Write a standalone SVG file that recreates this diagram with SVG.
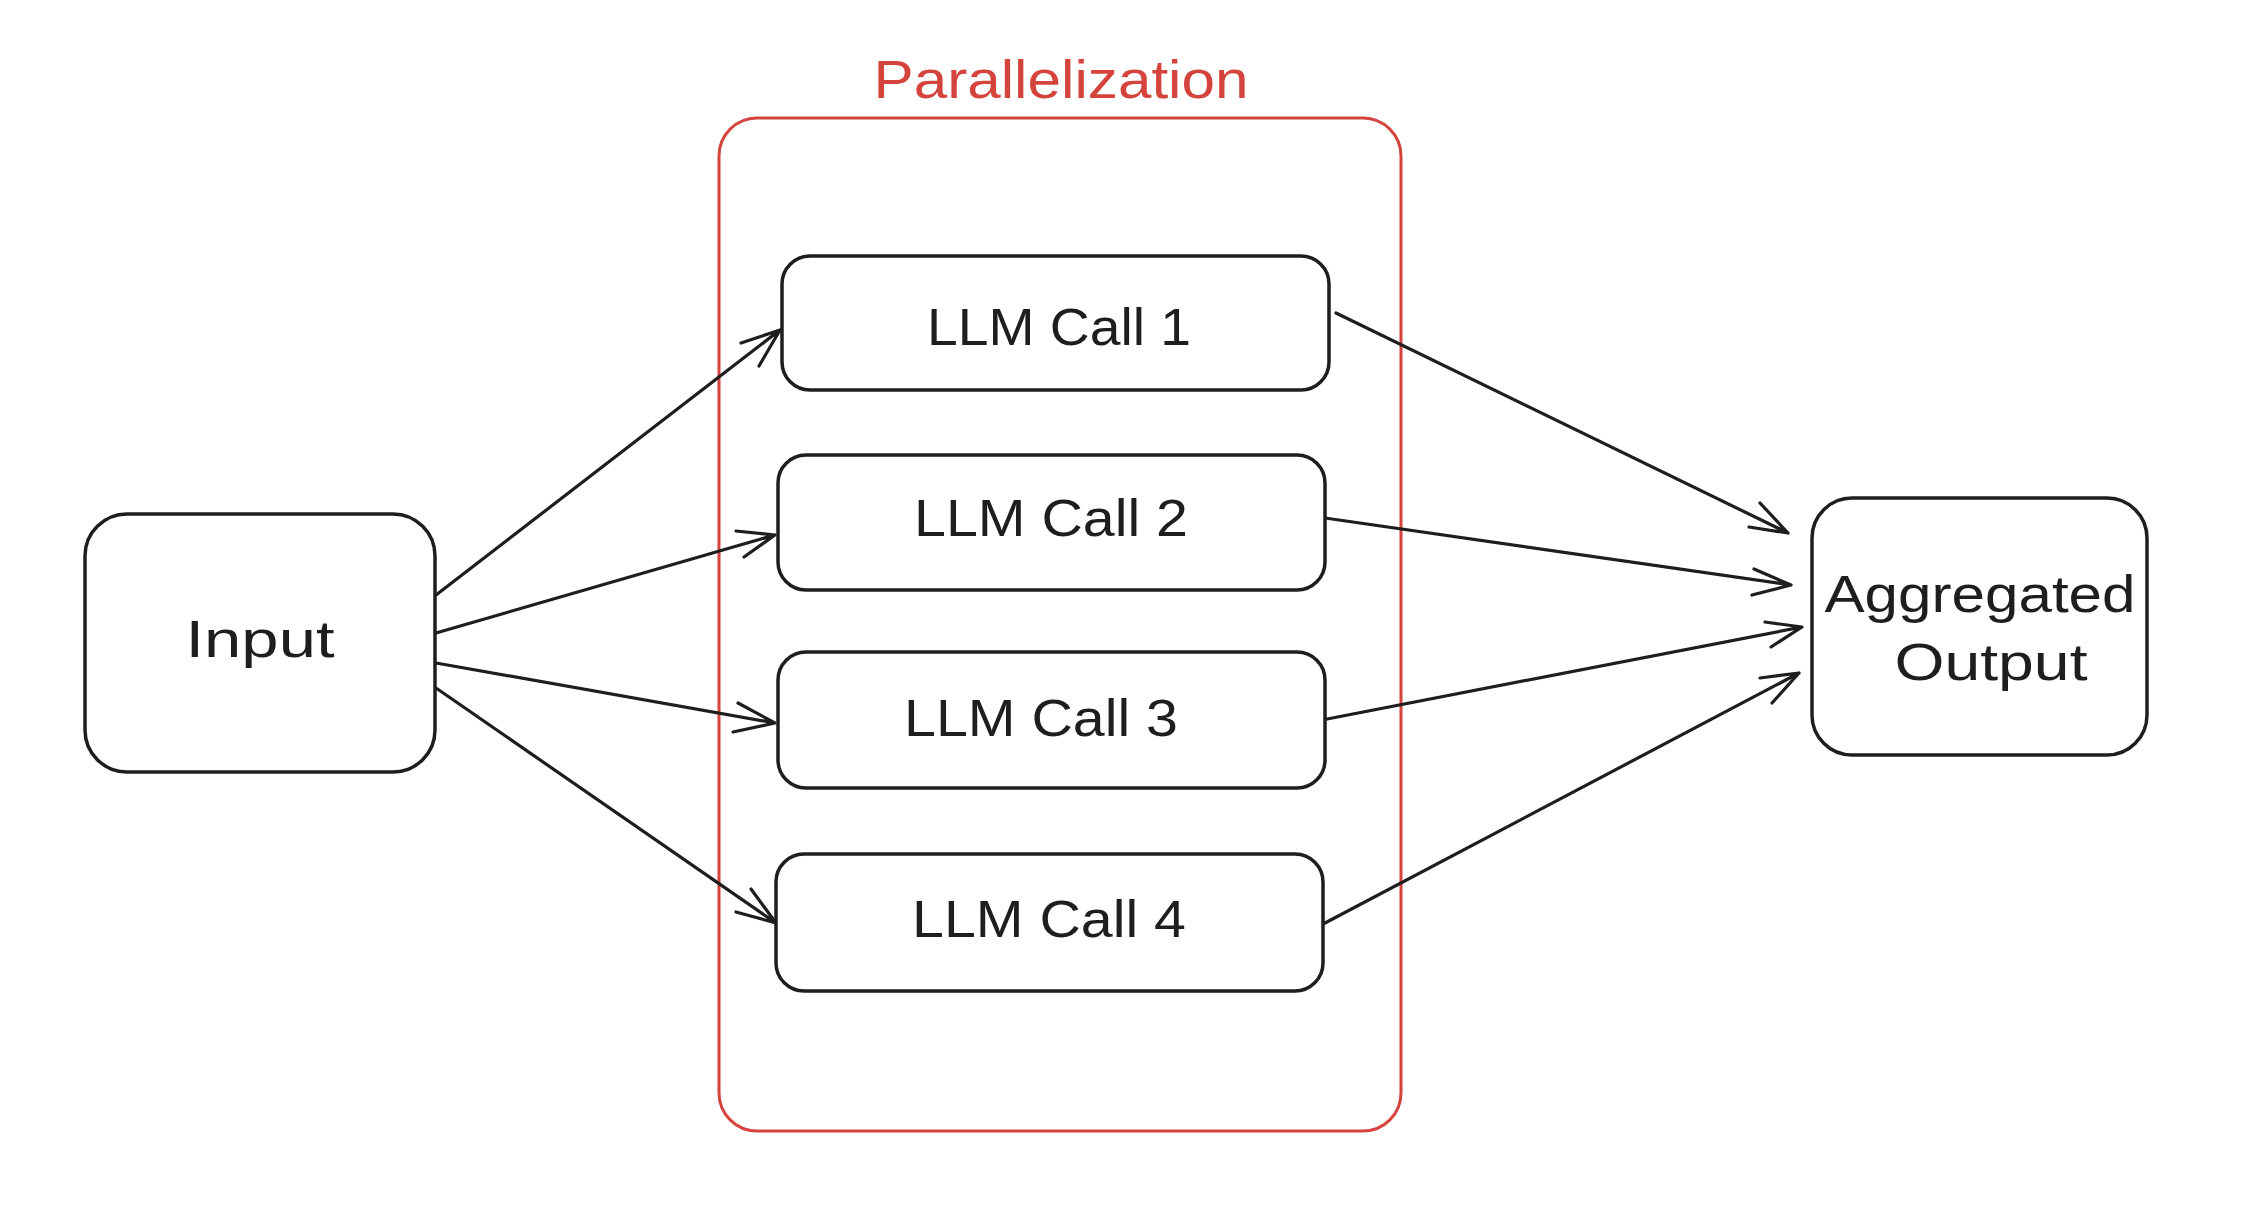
<svg xmlns="http://www.w3.org/2000/svg" width="2256" height="1228" viewBox="0 0 2256 1228">
<style>
.box{fill:#ffffff;stroke:#1e1e1e;stroke-width:3.5;}
.lbl{font-family:"Liberation Sans","Noto Sans",sans-serif;font-size:52px;fill:#1e1e1e;text-anchor:middle;}
.edge{fill:none;stroke:#1e1e1e;stroke-width:3.2;stroke-linecap:round;stroke-linejoin:round;}
.group{fill:none;stroke:#d5443c;stroke-width:3;}
.title{font-family:"Liberation Sans","Noto Sans",sans-serif;font-size:54px;fill:#d5443c;text-anchor:middle;}
</style>
<rect width="2256" height="1228" fill="#ffffff"/>
<g id="parallelization">
<rect class="group" x="719" y="118" width="682" height="1013" rx="38"/>
<text class="title" x="1061" y="98" textLength="375" lengthAdjust="spacingAndGlyphs">Parallelization</text>
</g>
<g id="connectors">
<path class="edge" d="M436,595 L780,330 M741,343 L780,330 L759,366"/>
<path class="edge" d="M436,633 L775,535 M736,531 L775,535 L744,557"/>
<path class="edge" d="M436,663 L775,723 M738,703 L775,723 L733,732"/>
<path class="edge" d="M436,688 L776,923 M751,889 L776,923 L736,912"/>
<path class="edge" d="M1336,313 L1788,533 M1760,503 L1788,533 L1749,527"/>
<path class="edge" d="M1325,518 L1791,585 M1754,569 L1791,585 L1752,595"/>
<path class="edge" d="M1322,720 L1802,627 M1765,622 L1802,627 L1771,647"/>
<path class="edge" d="M1325,923 L1799,673 M1760,678 L1799,673 L1772,703"/>
</g>
<g id="input">
<rect class="box" x="85" y="514" width="350" height="258" rx="42"/>
<text class="lbl" x="260" y="657" textLength="149" lengthAdjust="spacingAndGlyphs">Input</text>
</g>
<g id="llm-call-1">
<rect class="box" x="782" y="256" width="547" height="134" rx="28"/>
<text class="lbl" x="1059" y="345" textLength="264" lengthAdjust="spacingAndGlyphs">LLM Call 1</text>
</g>
<g id="llm-call-2">
<rect class="box" x="778" y="455" width="547" height="135" rx="28"/>
<text class="lbl" x="1051" y="536" textLength="274" lengthAdjust="spacingAndGlyphs">LLM Call 2</text>
</g>
<g id="llm-call-3">
<rect class="box" x="778" y="652" width="547" height="136" rx="28"/>
<text class="lbl" x="1041" y="736" textLength="274" lengthAdjust="spacingAndGlyphs">LLM Call 3</text>
</g>
<g id="llm-call-4">
<rect class="box" x="776" y="854" width="547" height="137" rx="28"/>
<text class="lbl" x="1049" y="937" textLength="274" lengthAdjust="spacingAndGlyphs">LLM Call 4</text>
</g>
<g id="aggregated-output">
<rect class="box" x="1812" y="498" width="335" height="257" rx="40"/>
<text class="lbl" x="1980" y="612" textLength="311" lengthAdjust="spacingAndGlyphs">Aggregated</text>
<text class="lbl" x="1991" y="680" textLength="193" lengthAdjust="spacingAndGlyphs">Output</text>
</g>
</svg>
